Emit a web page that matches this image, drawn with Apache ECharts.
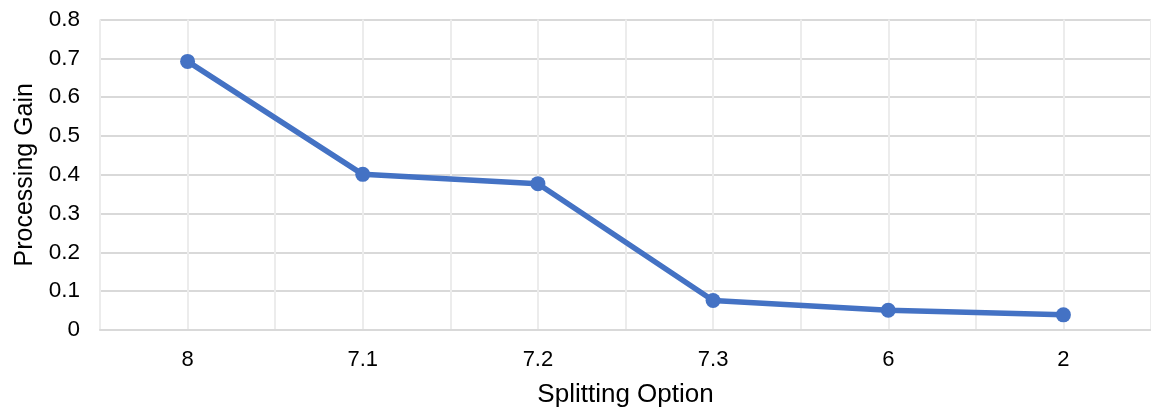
<!DOCTYPE html>
<html><head><meta charset="utf-8">
<script src="https://cdn.jsdelivr.net/npm/echarts@6/dist/echarts.min.js"></script>
<style>html,body{margin:0;padding:0;background:#fff}#c{width:1151px;height:416px}</style>
</head><body><div id="c"></div>
<script>
const categories = ['8', '7.1', '7.2', '7.3', '6', '2'];
const gainValues = [0.692, 0.401, 0.377, 0.076, 0.051, 0.039];
const yTicks = [0, 0.1, 0.2, 0.3, 0.4, 0.5, 0.6, 0.7, 0.8];

const font = 'Liberation Sans, Arial, sans-serif';
const chart = echarts.init(document.getElementById('c'), null, {renderer: 'canvas'});
chart.setOption({
  animation: false,
  backgroundColor: '#fff',
  grid: {left: 100, right: -3, top: 19.5, bottom: 86, containLabel: false},
  xAxis: [{
    type: 'category', data: categories, boundaryGap: true,
    name: 'Splitting Option', nameLocation: 'middle', nameGap: 52,
    nameTextStyle: {fontFamily: font, fontSize: 26, color: '#000'},
    axisLine: {show: true, lineStyle: {color: '#d9d9d9', width: 2}},
    axisTick: {show: false},
    axisLabel: {fontFamily: font, fontSize: 22, color: '#000', margin: 19},
    splitLine: {show: false}
  }, {
    type: 'value', min: 0, max: categories.length * 2, interval: 1,
    position: 'top', show: true,
    axisLine: {show: false}, axisTick: {show: false}, axisLabel: {show: false},
    splitLine: {show: true, lineStyle: {color: '#ececec', width: 2}}
  }],
  yAxis: {
    type: 'value', min: yTicks[0], max: yTicks[yTicks.length - 1], interval: 0.1,
    name: 'Processing Gain', nameLocation: 'middle', nameGap: 61,
    nameTextStyle: {fontFamily: font, fontSize: 25, color: '#000'},
    axisLine: {show: false}, axisTick: {show: false},
    axisLabel: {fontFamily: font, fontSize: 22.5, color: '#000', margin: 20,
      formatter: v => String(Math.round(v * 10) / 10)},
    splitLine: {show: true, lineStyle: {color: '#d9d9d9', width: 2}}
  },
  series: [{
    type: 'line', data: gainValues, xAxisIndex: 0,
    symbol: 'circle', symbolSize: 15,
    lineStyle: {color: '#4472C4', width: 5.5},
    itemStyle: {color: '#4472C4'}
  }]
});
</script></body></html>
